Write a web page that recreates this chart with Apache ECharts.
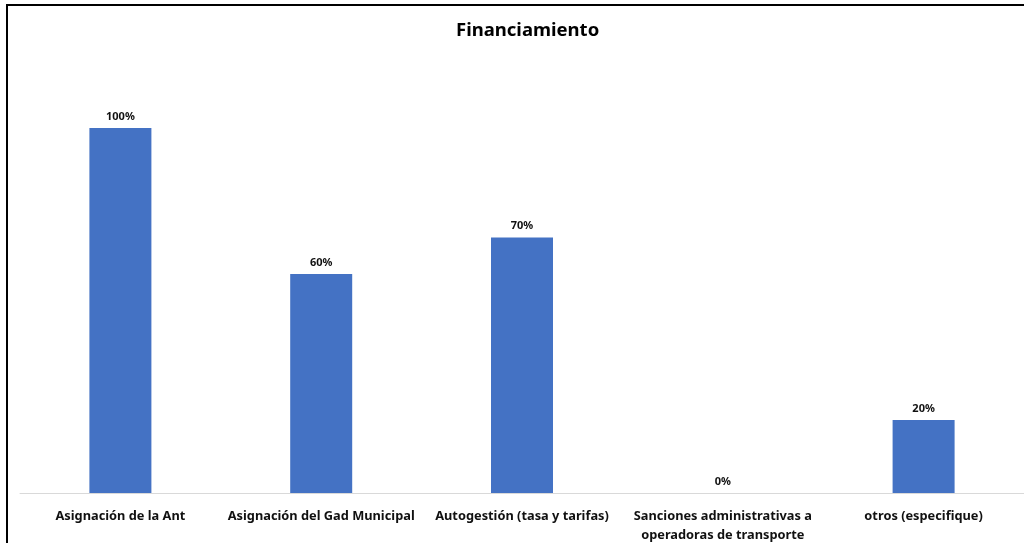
<!DOCTYPE html>
<html><head><meta charset="utf-8">
<script src="https://cdn.jsdelivr.net/npm/echarts@6/dist/echarts.min.js"></script>
<style>html,body{margin:0;padding:0;background:#fff}#c{width:1024px;height:543px}</style>
</head><body><div id="c"></div>
<script>
const categories = ["Asignación de la Ant", "Asignación del Gad Municipal", "Autogestión (tasa y tarifas)", "Sanciones administrativas a\noperadoras de transporte", "otros (especifique)"];
const values = [100, 60, 70, 0, 20];
const font = "'Noto Sans', sans-serif";
const chart = echarts.init(document.getElementById('c'));
chart.setOption({
  animation: false,
  title: { text: 'Financiamiento', left: 451, top: 16, textStyle: { fontFamily: font, fontSize: 18.5, fontWeight: 'bold', color: '#000' } },
  grid: { left: 20, right: 0, top: 128, bottom: 50, containLabel: false, outerBoundsMode: 'none' },
  xAxis: { type: 'category', data: categories,
    axisLine: { lineStyle: { color: '#d9d9d9', width: 1 } }, axisTick: { show: false },
    axisLabel: { interval: 0, margin: 14, fontFamily: font, fontSize: 12.8, fontWeight: 'bold', color: '#111', lineHeight: 19 } },
  yAxis: { type: 'value', min: 0, max: 100, show: false, splitLine: { show: false } },
  series: [{ type: 'bar', data: values, barWidth: 62, itemStyle: { color: '#4472c4' },
    label: { show: true, position: 'top', distance: 6, formatter: '{c}%', fontFamily: font, fontSize: 11, fontWeight: 'bold', color: '#111' } }],
  graphic: [
    { type: 'line', shape: { x1: 7, y1: 5, x2: 1024, y2: 5 }, style: { stroke: '#000', lineWidth: 2 } },
    { type: 'line', shape: { x1: 7, y1: 4, x2: 7, y2: 543 }, style: { stroke: '#000', lineWidth: 2 } }
  ]
});
</script></body></html>
